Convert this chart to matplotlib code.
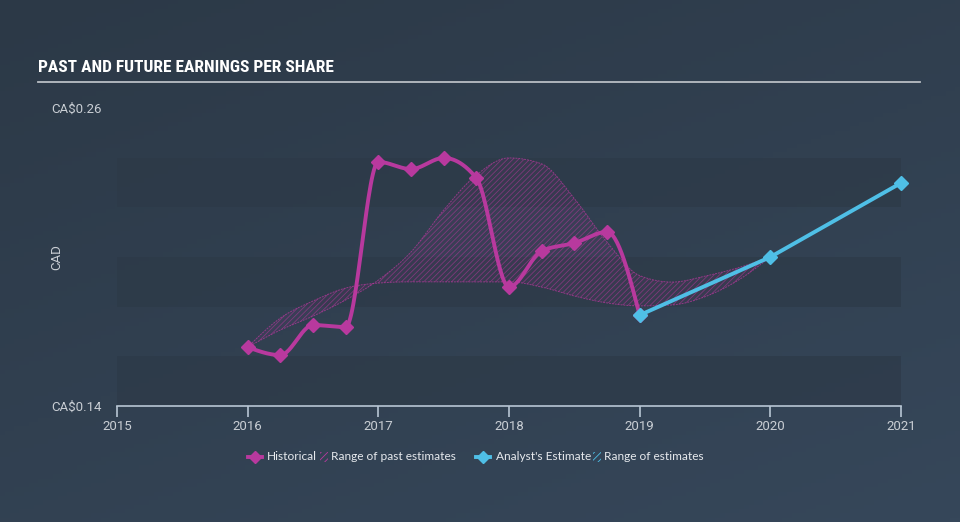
import numpy as np
import matplotlib
matplotlib.use("Agg")
import matplotlib.pyplot as plt
from matplotlib.lines import Line2D
from matplotlib.patches import Rectangle
from matplotlib import font_manager

# ---------------- data ----------------
hist_x = [2016.0, 2016.25, 2016.5, 2016.75, 2017.0, 2017.25, 2017.5, 2017.75,
          2018.0, 2018.25, 2018.5, 2018.75, 2019.0]
hist_y = [0.1637, 0.1605, 0.1726, 0.1718, 0.2383, 0.2354, 0.2399, 0.2318,
          0.1879, 0.2024, 0.2056, 0.2101, 0.1766]

fc_x = [2019.0, 2020.0, 2021.0]
fc_y = [0.1766, 0.2000, 0.2298]

rng_x = [2016.0, 2016.25, 2016.5, 2016.75, 2017.0, 2017.25, 2017.5, 2017.75,
         2018.0, 2018.25, 2018.5, 2018.75, 2019.0, 2019.25, 2019.5, 2019.75, 2020.0]
rng_b = [0.1637, 0.1706, 0.1762, 0.1827, 0.1907, 0.2020, 0.2189, 0.2330,
         0.2399, 0.2375, 0.2235, 0.2060, 0.1925, 0.1899, 0.1923, 0.1956, 0.2000]
rng_a = [0.1637, 0.1754, 0.1823, 0.1875, 0.1895, 0.1900, 0.1900, 0.1900,
         0.1900, 0.1879, 0.1843, 0.1815, 0.1803, 0.1807, 0.1840, 0.1905, 0.2000]

x_ticks = [2015, 2016, 2017, 2018, 2019, 2020, 2021]
y_ticks = [0.14, 0.26]
y_tick_labels = ["CA$0.14", "CA$0.26"]
band_edges = [0.14, 0.16, 0.18, 0.20, 0.22, 0.24]

# ---------------- helpers ----------------
def monotone(x, y, n=30):
    x = np.asarray(x, float); y = np.asarray(y, float)
    h = np.diff(x); d = np.diff(y) / h
    m = np.zeros_like(y)
    for i in range(1, len(y) - 1):
        p = (d[i-1] * h[i] + d[i] * h[i-1]) / (h[i-1] + h[i])
        m[i] = (np.sign(d[i-1]) + np.sign(d[i])) * min(abs(d[i-1]), abs(d[i]), 0.5 * abs(p))
    m[0] = (3 * d[0] - m[1]) / 2 if len(y) > 2 else d[0]
    m[-1] = (3 * d[-1] - m[-2]) / 2 if len(y) > 2 else d[-1]
    xs, ys = [], []
    for i in range(len(h)):
        t = np.linspace(0, 1, n, endpoint=(i == len(h) - 1))
        h00 = 2*t**3 - 3*t**2 + 1; h10 = t**3 - 2*t**2 + t
        h01 = -2*t**3 + 3*t**2; h11 = t**3 - t**2
        xs.append(x[i] + t * h[i])
        ys.append(h00*y[i] + h10*h[i]*m[i] + h01*y[i+1] + h11*h[i]*m[i+1])
    return np.concatenate(xs), np.concatenate(ys)

names = {f.name for f in font_manager.fontManager.ttflist}
title_family = None
for cand in ['Roboto Condensed', 'Liberation Sans Narrow', 'DejaVu Sans Condensed',
             'Open Sans Condensed', 'Roboto']:
    if cand in names:
        title_family = cand
        break
if title_family is None:
    title_family = 'DejaVu Sans'
title_size = {'Roboto Condensed': 12.5, 'Liberation Sans Narrow': 12.5,
              'DejaVu Sans Condensed': 11, 'Open Sans Condensed': 12.5,
              'Roboto': 11.5}.get(title_family, 10.5)

# ---------------- style ----------------
BG = "#334150"
BAND = "#2d3a48"
PINK = "#b8399e"
BLUE = "#4fbfe6"
TXT = "#c9ced4"
plt.rcParams['hatch.linewidth'] = 0.6

fig = plt.figure(figsize=(9.6, 5.22), dpi=100)
fig.patch.set_facecolor(BG)

# subtle background gradient
bg = fig.add_axes([0, 0, 1, 1], zorder=-10)
gx, gy = np.meshgrid(np.linspace(0, 1, 200), np.linspace(0, 1, 120))
grad = 0.6 * gy + 0.4 * (1 - gx)
bg.imshow(grad, extent=[0, 1, 0, 1], aspect='auto', origin='lower',
          cmap=matplotlib.colors.LinearSegmentedColormap.from_list('g', ["#36475a", "#2c3947"]))
bg.axis('off')

ax = fig.add_axes([117/960, 116/522, 784/960, 298/522])
ax.set_facecolor('none')
ax.set_xlim(2015, 2021)
ax.set_ylim(0.14, 0.26)

# bands
for i in range(0, len(band_edges) - 1, 2):
    ax.axhspan(band_edges[i], band_edges[i+1], color=BAND, alpha=0.7, lw=0, zorder=0)

# past range (hatched)
sx, sa = monotone(rng_x, rng_a)
_, sb = monotone(rng_x, rng_b)
ax.fill_between(sx, sa, sb, facecolor=PINK, alpha=0.08, lw=0, zorder=1)
ax.fill_between(sx, sa, sb, facecolor='none', edgecolor=(0.72, 0.22, 0.62, 0.55),
                hatch='//////', lw=0, zorder=1)
ax.plot(sx, sa, color=PINK, lw=0.7, alpha=0.7, ls=(0, (2, 1)), zorder=2)
ax.plot(sx, sb, color=PINK, lw=0.7, alpha=0.7, ls=(0, (2, 1)), zorder=2)

# historical
hx, hy = monotone(hist_x, hist_y)
ax.plot(hx, hy, color=PINK, lw=2.8, zorder=4, solid_capstyle='round')
ax.plot(hist_x, hist_y, ls='none', marker='D', ms=7, color=PINK, zorder=5)

# forecast
ax.plot(fc_x, fc_y, color=BLUE, lw=2.8, marker='D', ms=7, zorder=6, clip_on=False)

# axes styling
for s in ['top', 'right', 'left']:
    ax.spines[s].set_visible(False)
ax.spines['bottom'].set_color("#b8c6d4")
ax.spines['bottom'].set_linewidth(1.2)
ax.set_xticks(x_ticks)
ax.set_xticklabels([str(t) for t in x_ticks])
ax.tick_params(axis='x', colors="#b8c6d4", length=8, width=1.2, direction='out',
               labelcolor=TXT, labelsize=9.5, pad=2)
ax.set_yticks(y_ticks)
ax.set_yticklabels(y_tick_labels)
ax.tick_params(axis='y', length=0, labelcolor=TXT, labelsize=9.5, pad=11)
for lab in ax.get_xticklabels() + ax.get_yticklabels():
    lab.set_family('Roboto')
ax.set_ylabel("CAD", color=TXT, fontsize=9.5, family='Roboto')
ax.yaxis.set_label_coords(-54/784, 0.5)

# title
fig.text(38/960, 1 - 68/522, "PAST AND FUTURE EARNINGS PER SHARE", color='white',
         fontsize=title_size, fontweight='bold', family=[title_family, 'DejaVu Sans'],
         va='center', ha='left')
fig.add_artist(Line2D([38/960, 920/960], [1 - 82/522, 1 - 82/522], color="#b9bec4",
                      lw=1.3, transform=fig.transFigure))

# legend (manual)
ly = 1 - 457/522
def lg_marker(x0, color):
    fig.add_artist(Line2D([x0/960, (x0+14)/960], [ly, ly], color=color, lw=2.8,
                          transform=fig.transFigure))
    fig.add_artist(Line2D([(x0+7)/960], [ly], color=color, marker='D', ms=6,
                          transform=fig.transFigure))
def lg_hatch(x0, color):
    fig.add_artist(Rectangle((x0/960, ly - 5/522), 8/960, 10/522, facecolor='none',
                             edgecolor=color, hatch='/////', lw=0, transform=fig.transFigure))
lfont = dict(color="#e6e9ed", fontsize=8.6, family='Lato', va='center', ha='left')
lg_marker(248, PINK)
fig.text(267/960, ly, "Historical", **lfont)
lg_hatch(320, PINK)
fig.text(331/960, ly, "Range of past estimates", **lfont)
lg_marker(476, BLUE)
fig.text(496/960, ly, "Analyst's Estimate", **lfont)
lg_hatch(593, BLUE)
fig.text(604/960, ly, "Range of estimates", **lfont)

fig.savefig("out.png", dpi=100, facecolor=fig.get_facecolor())
